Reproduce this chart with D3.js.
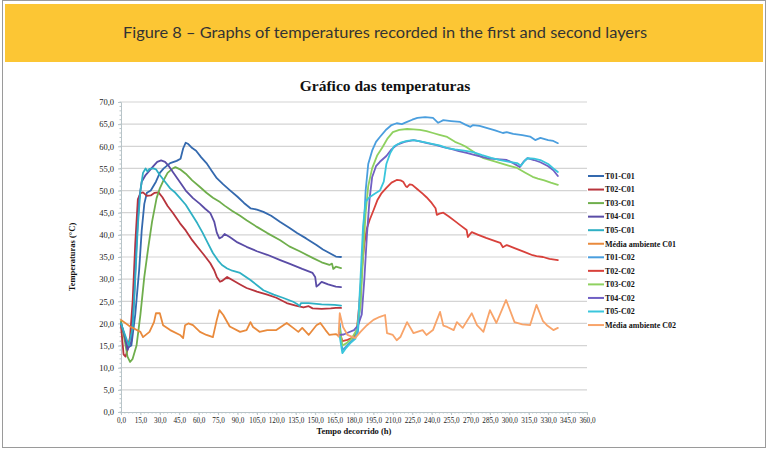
<!DOCTYPE html>
<html>
<head>
<meta charset="utf-8">
<script src="https://cdn.jsdelivr.net/npm/d3@7"></script>
<style>
  body { margin: 0; background: #fff; }
  svg { display: block; }
</style>
</head>
<body>
<div id="chart"></div>
<script>
// time (h), temperature (°C)
const t01c01 = [[0,20],[3,17],[5,14.5],[8,15],[11,22],[14,32],[16,41],[18,47],[20,49.5],[23,50],[27,52],[30,54],[33,55],[38,56.2],[43,56.7],[46,57.2],[48,59.5],[50,60.8],[52,60.5],[55,59.6],[58,59],[62,57.5],[66,56.2],[70,54.5],[74,52.8],[79,51.4],[84,50.1],[90,48.6],[95,47.2],[100,46],[105,45.7],[110,45.2],[116,44.3],[123,42.9],[130,41.6],[136,40.4],[143,39.2],[151,37.7],[156,36.7],[161,35.9],[166,35.1],[170,35]];
const t02c01 = [[0,19.5],[2,13],[3.5,12.5],[5,14],[7,17],[9,25],[11,38],[13,48],[15,49.4],[17,49.6],[20,48.8],[23,48.9],[26,49.5],[29,49.6],[32,48.5],[36,46.5],[40,45],[45.6,42.6],[50,41],[55,38.8],[59,37.3],[64,35.5],[69,33.6],[72,32],[74,30.5],[76.5,29.4],[78,29.6],[82,30.5],[86,29.8],[92,28.8],[97,28],[105,27.2],[113,26.5],[120,25.8],[128,24.6],[135,24],[141,23.6],[145,23.9],[148,23.4],[155,23.3],[162,23.4],[166,23.5],[170,23.5]];
const t03c01 = [[0,20.5],[3,16],[5,12.5],[7,11.3],[9,12],[12,15],[15,22],[18,30.5],[21,37],[24,43],[27.5,48.3],[30,50.5],[33,52.4],[36,54],[40,55],[42,55.3],[45.6,54.8],[50,53.8],[55,52.3],[61,50.8],[66,49.5],[71,48.4],[76.5,47.4],[80,46.6],[86,45.4],[92,44.3],[97,43.3],[105,41.8],[113,40.4],[123,38.8],[130,37.4],[138,36.3],[148,34.8],[155,33.8],[161,33.2],[163,33.5],[164,32.3],[166,32.8],[170,32.5]];
const t04c01 = [[0,20],[3,17],[5,14],[8,16],[10,25],[12,38],[14,48],[16,52],[19,53.5],[22,54.5],[25,55.5],[28,56.5],[31,56.8],[34,56.5],[37,55.5],[41,53.8],[45.6,51.9],[50,50],[55.6,48.3],[61,47],[65,45.9],[69,44.9],[72,43],[74,40.5],[76,39.2],[78,39.5],[80,40.2],[84,39.5],[90,38.3],[97,37.3],[105,36.3],[113,35.5],[123,34.3],[130,33.5],[140,32.3],[148,31.4],[150,30.5],[151,28.3],[153,28.8],[155,29.4],[160,28.8],[166,28.3],[170,28.2]];
const t05c01 = [[0,20],[3,17.5],[6,15],[9,19],[11,30],[13,42],[15,50],[17,54],[19,55],[20.5,54.3],[22,54.9],[25,55],[27,54.8],[30,53.5],[34,52],[38,50.5],[42,49.5],[45.6,48.3],[50,46.8],[55,44.5],[59,42.6],[63,40.5],[67,38.2],[71,35.9],[75,34.2],[78,33.2],[82,32.4],[86,31.9],[92,31.4],[100,29.8],[110,27.5],[118,26.5],[125,25.8],[133,24.9],[136,24.4],[138,23.9],[139,24.6],[145,24.6],[155,24.3],[165,24.2],[170,24]];
const mediaC01 = [[0,20.8],[7,19.3],[15,18.1],[17,16.9],[22,18.1],[25.5,20.3],[27,22.3],[30,22.3],[32.5,19.6],[38,18.5],[45.6,17.4],[48,16.7],[49.5,19.6],[52,20],[55.6,19.6],[61,18.1],[66,17.4],[71,16.9],[74,20.8],[76,23],[79,21.9],[84,19.3],[92,18.1],[97,18.5],[100,20.3],[102,19.2],[107,18.1],[113,18.5],[120,18.5],[128,20.1],[133,19],[137,18.1],[140,19],[145,17.4],[151,19.6],[154,20.1],[158,18.5],[161,17.4],[166,17.6],[169,17]];

const t01c02 = [[169,20],[171,14],[173,14.5],[176,15.5],[180,16.5],[183,18],[185,25],[187,38],[189,50],[191,56],[194,59],[197,61],[200,62.1],[205,63.8],[209,64.8],[213,65.2],[217,65],[221,65.5],[225,66],[229,66.4],[235,66.6],[241,66.4],[245,65.3],[247,65.6],[249,65.9],[255,65.7],[262,65.5],[266,64.9],[270,64.4],[272,64.8],[277,64.6],[283,64.1],[289,63.6],[295,63],[298,63.2],[303,62.8],[310,62.5],[316,62.2],[320,61.4],[324,61.9],[330,61.4],[334,61.2],[337.5,60.7]];
const t02c02 = [[169,18],[171,16],[175,16.3],[179,16.8],[182,18],[184,24],[186,32],[188,38],[190,41.5],[192,43.3],[195,45.5],[198,47.8],[201,49.3],[205,50.6],[209,51.8],[213,52.4],[216,52.3],[218,52],[220,51],[221,50.8],[223,51.4],[225,51.3],[229,50.3],[233,49.3],[236,48.5],[240,47.2],[243,46],[244,44.5],[246,44.8],[249,45],[253,44.2],[258,43.1],[262,42.2],[267,41.1],[268,39.5],[270,40.3],[271,40.6],[276,40],[282,39.3],[288,38.7],[293,38.2],[295,37.2],[298,37.7],[304,37],[311,36.2],[318,35.4],[321,35.2],[326,35],[331,34.6],[337.5,34.3]];
const t03c02 = [[169,19],[171,15],[174,15.5],[178,16.5],[182,18.5],[185,24],[187,35],[189,45],[191,51],[194,55],[198,58],[202,59.8],[206,61.8],[210,63.2],[215,63.7],[221,63.9],[226,63.8],[231,63.7],[236,63.4],[241,63],[246,62.6],[252,62.1],[258,61],[263,60.4],[267,59.8],[272,58.8],[276,58],[280,57.3],[286,56.8],[293,56.2],[300,55.6],[306,55.1],[312,54.1],[318,53.1],[322,52.7],[327,52.3],[332,51.8],[337.5,51.3]];
const t04c02 = [[169,17.4],[172,17.5],[176,18],[180,18.5],[183,19.5],[186,22],[188,30],[190,40],[192,48],[194,53],[197,55.5],[200,56.5],[205,57.8],[209,59.3],[213,60.3],[219,61],[226,61.4],[231,61.1],[236.5,60.7],[243,60.3],[249,59.8],[255,59.4],[261,58.9],[267,58.5],[275,57.9],[283,57.3],[290,57.1],[298,56.9],[303,56.2],[308,55.3],[311,56.5],[314,57.3],[319,56.9],[324,56.4],[330,55.5],[334,54.6],[337.5,53.3]];
const t05c02 = [[169,17],[171,13.3],[174,14.5],[177,15.5],[181,16.5],[183,19],[185,30],[187,42],[189,47.5],[192,48.5],[196,49.3],[200,50],[203,52],[205,56],[208,58.5],[211,60],[216,60.8],[221,61.2],[226,61.4],[231,61.1],[236,60.8],[241,60.5],[246,60.2],[252,59.6],[258,59.3],[265,59],[272,58.7],[279,58],[286,57.4],[293,56.9],[300,56.5],[306,56.2],[309,55.6],[312,56.8],[314,57.3],[319,57.2],[324,56.9],[330,56],[334,55],[337.5,54.2]];
const mediaC02 = [[168,17],[169,22.3],[171.5,19.2],[175,17.4],[181,16.7],[185,18.1],[190,19.6],[195,20.8],[200,21.5],[204,21.9],[205.5,17.8],[210,17.4],[213,16.2],[216,17],[221,20.3],[226,17.8],[233,18.5],[236,17.4],[241,18.5],[246.5,22.6],[249,19.5],[252,19.2],[257,18.5],[259.5,20.3],[264,19],[271,22.3],[275,19.6],[280,18.1],[285,23],[290,20.1],[297.5,25.3],[304,20.3],[310,19.8],[316,19.6],[321,24.2],[326,20.5],[329,19.6],[334,18.5],[337.5,19]];

const seriesNames = ['T01-C01','T02-C01','T03-C01','T04-C01','T05-C01','Média ambiente C01',
                     'T01-C02','T02-C02','T03-C02','T04-C02','T05-C02','Média ambiente C02'];
const seriesData = [t01c01, t02c01, t03c01, t04c01, t05c01, mediaC01,
                    t01c02, t02c02, t03c02, t04c02, t05c02, mediaC02];
const seriesColors = ['#3469ae','#b8343c','#6fae4c','#5a4ca6','#2fb0c4','#e98a3c',
                      '#4a9ede','#d8413b','#8fd160','#7060c4','#3ac6dc','#f8a46a'];

const yTicks = d3.range(0, 71, 5);
const xTicks = d3.range(0, 361, 15);

const width = 770, height = 452;
const fmt = d => d3.format('.1f')(d).replace('.', ',');

const svg = d3.select('#chart').append('svg')
  .attr('width', width)
  .attr('height', height);

// frame and header
svg.append('rect')
  .attr('x', 2.5).attr('y', 0.5).attr('width', 763).attr('height', 447)
  .attr('fill', '#fff').attr('stroke', '#9a9a9a').attr('stroke-width', 1);

svg.append('rect')
  .attr('x', 5).attr('y', 4).attr('width', 758).attr('height', 58)
  .attr('fill', '#fcc634');

svg.append('text')
  .attr('x', 385).attr('y', 38)
  .attr('text-anchor', 'middle')
  .attr('font-family', 'Lato, "Noto Sans", sans-serif')
  .attr('font-size', 14.5)
  .attr('fill', '#333')
  .attr('textLength', 524)
  .attr('lengthAdjust', 'spacingAndGlyphs')
  .text('Figure 8 – Graphs of temperatures recorded in the first and second layers');

// chart title
svg.append('text')
  .attr('x', 385).attr('y', 91)
  .attr('text-anchor', 'middle')
  .attr('font-family', '"Liberation Serif", serif')
  .attr('font-weight', 'bold')
  .attr('font-size', 15.5)
  .attr('fill', '#111')
  .text('Gráfico das temperaturas');

const x = d3.scaleLinear().domain([0, 360]).range([121, 587]);
const y = d3.scaleLinear().domain([0, 70]).range([412, 102]);

// horizontal gridlines
svg.append('g')
  .selectAll('line')
  .data(yTicks.filter(d => d > 0))
  .join('line')
  .attr('x1', x(0)).attr('x2', x(360))
  .attr('y1', d => y(d)).attr('y2', d => y(d))
  .attr('stroke', '#d4d4d4')
  .attr('stroke-width', 1.2);

// y axis
const yAxis = svg.append('g')
  .attr('transform', `translate(${x(0)},0)`)
  .call(d3.axisLeft(y).tickValues(yTicks).tickFormat(fmt).tickSize(3).tickPadding(4));
yAxis.select('.domain').attr('stroke', '#b8c4c8');
yAxis.selectAll('.tick line').attr('stroke', '#b8c4c8');
yAxis.selectAll('text')
  .attr('font-family', '"Liberation Serif", serif')
  .attr('font-size', 8.5)
  .attr('fill', '#222');

// minor ticks on y axis
svg.append('g')
  .selectAll('line')
  .data(d3.range(0, 71, 1))
  .join('line')
  .attr('x1', x(0) - 1.5).attr('x2', x(0))
  .attr('y1', d => y(d)).attr('y2', d => y(d))
  .attr('stroke', '#b8c4c8');

// x axis
const xAxis = svg.append('g')
  .attr('transform', `translate(0,${y(0)})`)
  .call(d3.axisBottom(x).tickValues(xTicks).tickFormat(fmt).tickSize(3).tickPadding(3));
xAxis.select('.domain').attr('stroke', '#b8c4c8');
xAxis.selectAll('.tick line').attr('stroke', '#b8c4c8');
xAxis.selectAll('text')
  .attr('font-family', '"Liberation Serif", serif')
  .attr('font-size', 7.2)
  .attr('fill', '#222');

// minor ticks on x axis
svg.append('g')
  .selectAll('line')
  .data(d3.range(0, 361, 3))
  .join('line')
  .attr('x1', d => x(d)).attr('x2', d => x(d))
  .attr('y1', y(0)).attr('y2', y(0) + 1.5)
  .attr('stroke', '#b8c4c8');

// axis titles
svg.append('text')
  .attr('transform', `translate(75,${(y(0) + y(70)) / 2}) rotate(-90)`)
  .attr('text-anchor', 'middle')
  .attr('font-family', '"Liberation Serif", serif')
  .attr('font-weight', 'bold')
  .attr('font-size', 8.5)
  .attr('fill', '#111')
  .text('Temperaturas (°C)');

svg.append('text')
  .attr('x', 354).attr('y', 434)
  .attr('text-anchor', 'middle')
  .attr('font-family', '"Liberation Serif", serif')
  .attr('font-weight', 'bold')
  .attr('font-size', 8.5)
  .attr('fill', '#111')
  .text('Tempo decorrido (h)');

// series lines
const line = d3.line()
  .x(d => x(d[0]))
  .y(d => y(d[1]));

svg.append('g')
  .attr('fill', 'none')
  .attr('stroke-linejoin', 'round')
  .attr('stroke-linecap', 'round')
  .selectAll('path')
  .data(seriesData)
  .join('path')
  .attr('d', line)
  .attr('stroke', (d, i) => seriesColors[i])
  .attr('stroke-width', 1.8);

// legend
const legend = svg.append('g')
  .attr('transform', 'translate(588,176)');

const item = legend.selectAll('g')
  .data(seriesNames)
  .join('g')
  .attr('transform', (d, i) => `translate(0,${i * 13.55})`);

item.append('line')
  .attr('x1', 0).attr('x2', 16)
  .attr('stroke', (d, i) => seriesColors[i])
  .attr('stroke-width', 2);

item.append('text')
  .attr('x', 17).attr('y', 2.8)
  .attr('font-family', '"Liberation Serif", serif')
  .attr('font-weight', 'bold')
  .attr('font-size', 8)
  .attr('fill', '#111')
  .text(d => d);
</script>
</body>
</html>
